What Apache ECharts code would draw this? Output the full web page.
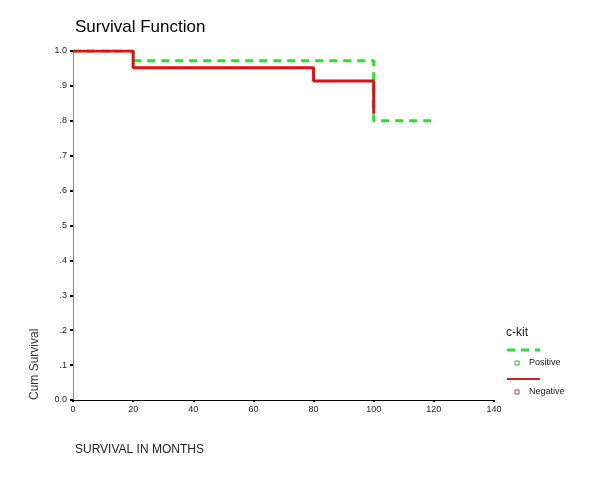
<!DOCTYPE html>
<html><head><meta charset="utf-8">
<script src="https://cdn.jsdelivr.net/npm/echarts@6/dist/echarts.min.js"></script>
<style>html,body{margin:0;padding:0;background:#fff}#c{width:600px;height:479px}</style>
</head><body><div id="c"></div>
<script>
const posTimes = [0, 20, 100, 120];
const posSurv = [1.0, 0.972, 0.80, 0.80];
const negTimes = [0, 20, 80, 100];
const negSurv = [1.0, 0.952, 0.914, 0.82];
const yTicks = ['0.0','.1','.2','.3','.4','.5','.6','.7','.8','.9','1.0'];
const seriesNames = ['Positive','Negative'];

const chart = echarts.init(document.getElementById('c'));
const font = 'Liberation Sans, Arial, sans-serif';
chart.setOption({
  animation:false,
  title:{text:'Survival Function', left:70, top:14, textStyle:{fontFamily:font, fontSize:17, fontWeight:'normal', color:'#000'}},
  grid:{left:73, right:106, top:51, bottom:79},
  xAxis:[{type:'value', min:0, max:140, interval:20,
    axisLine:{lineStyle:{color:'#000', width:1}}, axisTick:{show:true, length:2, lineStyle:{color:'#000', width:2}},
    axisLabel:{fontFamily:font, fontSize:9, color:'#222', margin:5},
    splitLine:{show:false},
    name:'SURVIVAL IN MONTHS', nameLocation:'start', nameGap:0,
    nameTextStyle:{fontFamily:font, fontSize:12, color:'#222', align:'left', verticalAlign:'top', padding:[44,0,0,2]}},
    {type:'value', position:'top', min:0, max:140, axisLine:{show:true, lineStyle:{color:'#000'}}, axisTick:{show:false}, axisLabel:{show:false}, splitLine:{show:false}}],
  yAxis:[{type:'value', min:0, max:1, interval:0.1,
    axisLine:{show:true, lineStyle:{color:'#000'}}, axisTick:{show:true, length:3, lineStyle:{color:'#000', width:2}},
    axisLabel:{fontFamily:font, fontSize:9, color:'#222', margin:6, formatter:(v,i)=>yTicks[Math.round(v*10)]},
    splitLine:{show:false}},
    {type:'value', position:'right', min:0, max:1, axisLine:{show:true, lineStyle:{color:'#888'}}, axisTick:{show:false}, axisLabel:{show:false}, splitLine:{show:false}}],
  series:[
    {name:seriesNames[0], type:'line', step:'end', showSymbol:false, z:2,
      data:posTimes.map((t,i)=>[t,posSurv[i]]),
      lineStyle:{color:'#22e622', width:3, type:[8,6]}},
    {name:seriesNames[1], type:'line', step:'end', showSymbol:false, z:3,
      data:negTimes.map((t,i)=>[t,negSurv[i]]),
      lineStyle:{color:'#dd1111', width:3}}
  ],
  graphic:[
    {type:'text', x:35, y:400, rotation:Math.PI/2, style:{text:'Cum Survival', font:'12px '+font, fill:'#333', align:'left', verticalAlign:'middle'}},
    {type:'text', left:506, top:327, style:{text:'c-kit', font:'12px '+font, fill:'#222'}},
    {type:'line', shape:{x1:507,y1:350,x2:540,y2:350}, style:{stroke:'#22e622', lineWidth:3, lineDash:[8,6]}},
    {type:'rect', shape:{x:515,y:361,width:4,height:4}, style:{fill:'#fff', stroke:'#33aa33', lineWidth:1}},
    {type:'text', left:529, top:358, style:{text:seriesNames[0], font:'9px '+font, fill:'#222'}},
    {type:'line', shape:{x1:507,y1:379,x2:540,y2:379}, style:{stroke:'#cc2222', lineWidth:2}},
    {type:'rect', shape:{x:515,y:390,width:4,height:4}, style:{fill:'#fff', stroke:'#994444', lineWidth:1}},
    {type:'text', left:529, top:387, style:{text:seriesNames[1], font:'9px '+font, fill:'#222'}}
  ]
});
</script></body></html>
